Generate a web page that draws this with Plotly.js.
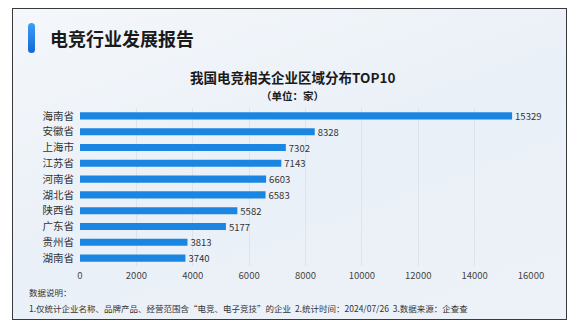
<!DOCTYPE html>
<html><head><meta charset="utf-8">
<script src="https://cdn.plot.ly/plotly-3.0.1.min.js"></script>
<style>
html,body{margin:0;padding:0;background:#fff;width:584px;height:326px;overflow:hidden;}
#frame{position:absolute;left:12px;top:8px;width:553px;height:310px;border:1.5px solid #3a3a3a;background:linear-gradient(160deg,#f4f7fb 0%,#eaf0f7 50%,#edf2f8 100%);}
#bar{position:absolute;left:28px;top:23px;width:7px;height:30px;border-radius:4px;background:linear-gradient(180deg,#3aa0f5,#1566d6);}
#chart{position:absolute;left:0;top:0;width:584px;height:326px;}
</style></head>
<body>
<div id="frame"></div>
<div id="bar"></div>
<div id="chart"></div>
<script>
const provinces = ["海南省","安徽省","上海市","江苏省","河南省","湖北省","陕西省","广东省","贵州省","湖南省"];
const counts = [15329,8328,7302,7143,6603,6583,5582,5177,3813,3740];
const xTicks = [0,2000,4000,6000,8000,10000,12000,14000,16000];
const font = "'Noto Sans CJK SC', 'Noto Sans', sans-serif";

const trace = {
  type:'bar', orientation:'h',
  x: counts, y: provinces,
  marker:{color:'#1a86e2'},
  text: counts.map(String), textposition:'outside', cliponaxis:false, constraintext:'none',
  textfont:{family:font,size:9.5,color:'#333'},
  hoverinfo:'none'
};
const layout = {
  width:584, height:326,
  margin:{l:80,r:53,t:108,b:60},
  paper_bgcolor:'rgba(0,0,0,0)', plot_bgcolor:'rgba(0,0,0,0)',
  bargap:0.55,
  showlegend:false,
  font:{family:font,color:'#333'},
  xaxis:{range:[0,16000], tickvals:xTicks, ticktext:xTicks.map(String),
    showgrid:true, gridcolor:'#dde3ea', gridwidth:1, zeroline:false,
    showline:false, ticks:'', tickfont:{size:9.5,color:'#444',family:font}, ticklabelstandoff:2},
  yaxis:{autorange:'reversed', showgrid:false, showline:false, ticks:'',
    tickfont:{size:10.5,color:'#333',family:font}, ticklabelstandoff:5},
  annotations:[
    {text:'<b>电竞行业发展报告</b>', xref:'paper', yref:'paper', x:(48-80)/451, y:1+(108-38)/158,
     xanchor:'left', yanchor:'middle', showarrow:false, font:{size:18,color:'#1a1a1a',family:font}},
    {text:'<b>我国电竞相关企业区域分布TOP10</b>', xref:'paper', yref:'paper', x:(292-80)/451, y:1+(108-77)/158,
     xanchor:'center', yanchor:'middle', showarrow:false, font:{size:13.5,color:'#1a1a1a',family:font}},
    {text:'<b>（单位：家）</b>', xref:'paper', yref:'paper', x:(292-80)/451, y:1+(108-95)/158,
     xanchor:'center', yanchor:'middle', showarrow:false, font:{size:10.5,color:'#1a1a1a',family:font}},
    {text:'数据说明：', xref:'paper', yref:'paper', x:(27-80)/451, y:-(292-266)/158,
     xanchor:'left', yanchor:'middle', showarrow:false, font:{size:8.5,color:'#333',family:font}},
    {text:'1.仅统计企业名称、品牌产品、经营范围含“电竞、电子竞技”的企业  2.统计时间：2024/07/26  3.数据来源：企查查',
     xref:'paper', yref:'paper', x:(27-80)/451, y:-(308-266)/158,
     xanchor:'left', yanchor:'middle', showarrow:false, font:{size:8.5,color:'#333',family:font}}
  ]
};
Plotly.newPlot('chart',[trace],layout,{displayModeBar:false,staticPlot:true});
</script>
</body></html>
